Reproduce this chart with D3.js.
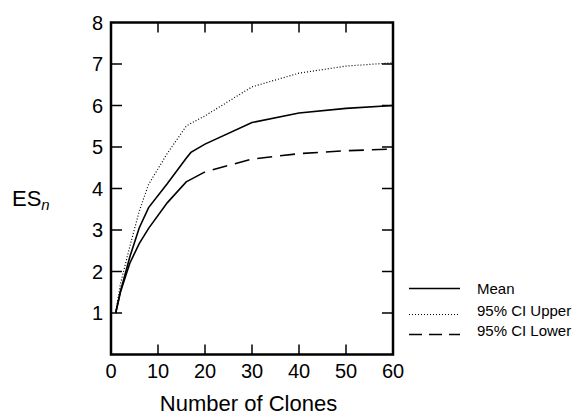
<!DOCTYPE html>
<html><head><meta charset="utf-8">
<script src="https://cdn.jsdelivr.net/npm/d3@7/dist/d3.min.js"></script>
<style>body{margin:0;background:#fff}svg{display:block;font-family:"Liberation Sans",Arial,Helvetica,sans-serif}</style>
</head><body><svg id="c" width="578" height="415"></svg>
<script>
const clones = [1, 2, 4, 6, 8, 12, 16, 17, 20, 30, 40, 50, 60];
const meanES = [1, 1.52, 2.35, 3.05, 3.54, 4.12, 4.73, 4.87, 5.07, 5.59, 5.82, 5.93, 6.0];
const upperES = [1, 1.7, 2.6, 3.45, 4.1, 4.85, 5.5, 5.57, 5.75, 6.45, 6.78, 6.95, 7.03];
const lowerES = [1, 1.5, 2.2, 2.67, 3.04, 3.66, 4.16, 4.22, 4.4, 4.71, 4.84, 4.91, 4.95];
const xTicks = [0, 10, 20, 30, 40, 50, 60];
const yTicks = [1, 2, 3, 4, 5, 6, 7, 8];
const legendLabels = ["Mean", "95% CI Upper", "95% CI Lower"];

const svg = d3.select("#c");
const L = 111, R = 393, T = 22.5, B = 354.5;
const x = d3.scaleLinear().domain([0, 60]).range([L, R]);
const y = d3.scaleLinear().domain([0, 8]).range([B, T]);

// inward ticks on all sides
const inner = [10, 20, 30, 40, 50];
const innerY = [1, 2, 3, 4, 5, 6, 7];
const g = svg.append("g");
g.selectAll(".tb").data(inner).join("line").attr("x1", d => x(d)).attr("x2", d => x(d)).attr("y1", B).attr("y2", B - 10).attr("stroke", "#000").attr("stroke-width", 1.5);
g.selectAll(".tt").data(inner).join("line").attr("x1", d => x(d)).attr("x2", d => x(d)).attr("y1", T).attr("y2", T + 10).attr("stroke", "#000").attr("stroke-width", 1.5);
g.selectAll(".tl").data(innerY).join("line").attr("y1", d => y(d)).attr("y2", d => y(d)).attr("x1", L).attr("x2", L + 11).attr("stroke", "#000").attr("stroke-width", 1.5);
g.selectAll(".tr").data(innerY).join("line").attr("y1", d => y(d)).attr("y2", d => y(d)).attr("x1", R).attr("x2", R - 11).attr("stroke", "#000").attr("stroke-width", 1.5);

svg.append("rect").attr("x", L).attr("y", T).attr("width", R - L).attr("height", B - T)
  .attr("fill", "none").attr("stroke", "#000").attr("stroke-width", 2.5);

// tick labels
svg.selectAll(".xl").data(xTicks).join("text").attr("x", d => x(d)).attr("y", 378)
  .attr("text-anchor", "middle").attr("font-size", 20).text(d => d);
svg.selectAll(".yl").data(yTicks).join("text").attr("x", 103).attr("y", d => y(d) + 7)
  .attr("text-anchor", "end").attr("font-size", 20).text(d => d);

svg.append("text").attr("x", 248.5).attr("y", 411).attr("text-anchor", "middle").attr("font-size", 22).text("Number of Clones");
const yl = svg.append("text").attr("x", 12).attr("y", 206).attr("font-size", 22);
yl.append("tspan").text("ES");
yl.append("tspan").attr("font-style", "italic").attr("font-size", 15).attr("dy", 4).text("n");

const pts = arr => clones.map((c, i) => [c, arr[i]]);
const line = d3.line().x(d => x(d[0])).y(d => y(d[1]));

svg.append("path").attr("d", line(pts(upperES))).attr("fill", "none").attr("stroke", "#000")
  .attr("stroke-width", 1.2).attr("stroke-dasharray", "1,2");
svg.append("path").attr("d", line(pts(meanES))).attr("fill", "none").attr("stroke", "#000").attr("stroke-width", 1.6);
const lp = pts(lowerES);
svg.append("path").attr("d", line(lp.filter(d => d[0] <= 20))).attr("fill", "none").attr("stroke", "#000").attr("stroke-width", 1.6);
svg.append("path").attr("d", line(lp.filter(d => d[0] >= 20))).attr("fill", "none").attr("stroke", "#000")
  .attr("stroke-width", 1.6).attr("stroke-dasharray", "15,8").attr("stroke-dashoffset", -8);

// legend
const ly = [288.5, 314.5, 334.5];
const ty = [294, 315.5, 335.5];
const dashes = [null, "1,2", "13,7"];
const widths = [1.6, 1.2, 1.6];
legendLabels.forEach((lab, i) => {
  svg.append("line").attr("x1", 409).attr("x2", 460).attr("y1", ly[i]).attr("y2", ly[i])
    .attr("stroke", "#000").attr("stroke-width", widths[i]).attr("stroke-dasharray", dashes[i]);
  svg.append("text").attr("x", 477).attr("y", ty[i]).attr("font-size", 15).text(lab);
});
</script></body></html>
